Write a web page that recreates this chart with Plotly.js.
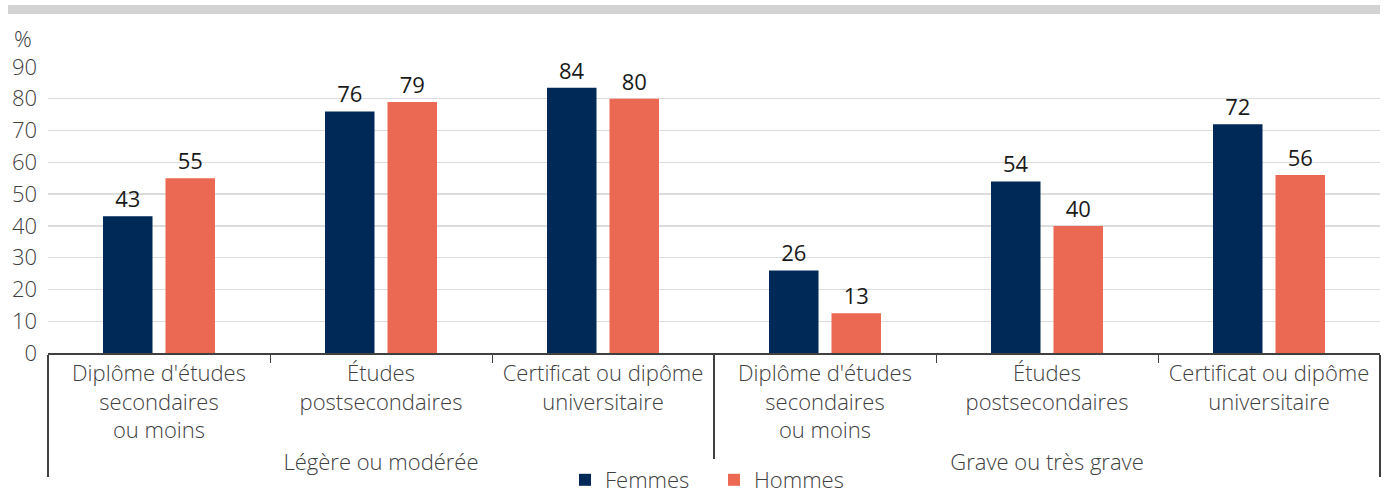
<!DOCTYPE html>
<html>
<head>
<meta charset="utf-8">
<script src="https://cdn.plot.ly/plotly-3.0.1.min.js"></script>
<style>html,body{margin:0;padding:0;background:#fff;}#chart{width:1385px;height:501px;}</style>
</head>
<body>
<div id="chart"></div>
<script>
const groups = ["Légère ou modérée","Légère ou modérée","Légère ou modérée","Grave ou très grave","Grave ou très grave","Grave ou très grave"];
const categories = ["Diplôme d'études<br>secondaires<br>ou moins","Études<br>postsecondaires","Certificat ou dipôme<br>universitaire","Diplôme d'études<br>secondaires<br>ou moins","Études<br>postsecondaires","Certificat ou dipôme<br>universitaire"];
const femmes = [43, 76, 83.5, 26, 54, 72];
const hommes = [55, 79, 80, 12.5, 40, 56];
const yTicks = [0,10,20,30,40,50,60,70,80,90];

const font = {family: "Open Sans, sans-serif", size: 22, color: "#404040", weight: 300};
const valueFont = {family: "Open Sans, sans-serif", size: 22, color: "#1a1a1a", weight: 400};

const traces = [
  {type:"bar", name:"Femmes", x:[groups, categories], y:femmes, marker:{color:"#002957"},
   texttemplate:"%{y:.0f}", textposition:"outside", cliponaxis:false, textfont:valueFont, hoverinfo:"skip"},
  {type:"bar", name:"Hommes", x:[groups, categories], y:hommes, marker:{color:"#EB6853"},
   texttemplate:"%{y:.0f}", textposition:"outside", cliponaxis:false, textfont:valueFont, hoverinfo:"skip"}
];

const layout = {
  width:1385, height:501,
  margin:{l:48, r:5, t:67, b:148, autoexpand:false},
  paper_bgcolor:"#ffffff", plot_bgcolor:"#ffffff",
  font: font,
  barmode:"group", bargap:0.437, bargroupgap:0.208,
  showlegend:true,
  legend:{orientation:"h", x:0.5, xanchor:"center", y:-0.5175, yanchor:"bottom", font:font,
    itemwidth:30, entrywidth:104, entrywidthmode:"pixels", traceorder:"normal"},
  xaxis:{type:"multicategory", showline:true, linecolor:"#404040", linewidth:1.5,
    ticks:"outside", ticklen:8, tickcolor:"#404040", tickfont:font, automargin:false,
    showdividers:true, dividercolor:"#404040", dividerwidth:1.5, showgrid:false, fixedrange:true},
  yaxis:{range:[0,90], tickvals:yTicks, showgrid:true, gridcolor:"#dcdcdc", gridwidth:1.3,
    zeroline:false, showline:false, ticks:"", tickfont:font, ticklabelstandoff:10, automargin:false, fixedrange:true},
  shapes:[
    {type:"rect", xref:"paper", yref:"paper", x0:-0.030, x1:1.0, y0:1.1853, y1:1.2168, fillcolor:"#d3d3d3", line:{width:0}, layer:"below"}
  ],
  annotations:[
    {text:"%", xref:"paper", yref:"paper", x:-0.027, y:1.101, xanchor:"left", yanchor:"middle", showarrow:false, font:font}
  ]
};
Plotly.newPlot("chart", traces, layout, {staticPlot:true, displayModeBar:false});
</script>
</body>
</html>
